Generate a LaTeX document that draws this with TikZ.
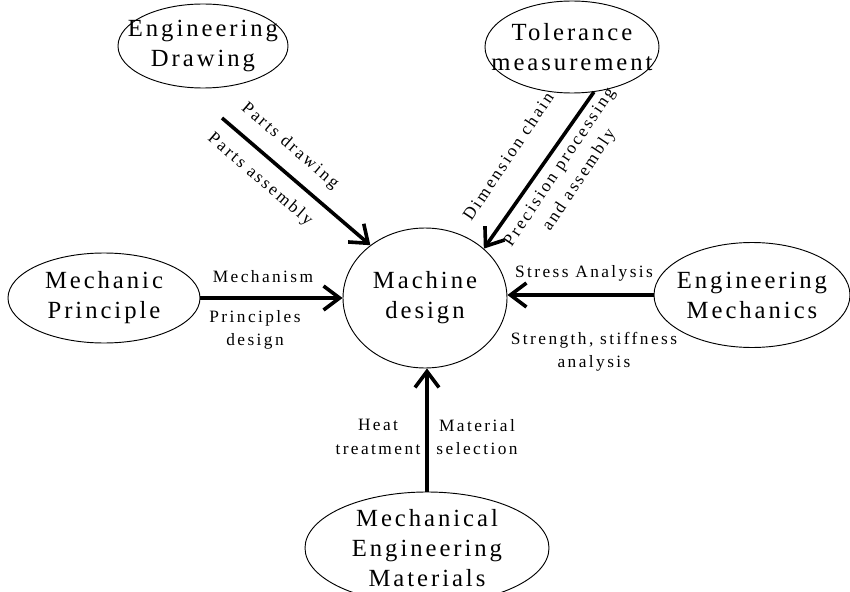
\documentclass[tikz,border=0pt]{standalone}
\usepackage{fontspec}
\setmainfont{Liberation Serif}
\newfontfamily\ellfont[LetterSpace=12]{Liberation Serif}
\newfontfamily\lblfont[LetterSpace=14]{Liberation Serif}
\usetikzlibrary{shapes.geometric,arrows.meta}
\begin{document}
\begin{tikzpicture}[x=0.75pt,y=-0.75pt,
  ell/.style={draw, ellipse, line width=0.7pt, inner sep=0pt},
  etext/.style={font=\ellfont\fontsize{18.5}{22.5}\selectfont, align=center, inner sep=0pt},
  lbl/.style={font=\lblfont\fontsize{13}{17.5}\selectfont, align=center, inner sep=0pt},
  arr/.style={line width=2.7pt, -{Straight Barb[length=12pt,width=18pt]}}]
\useasboundingbox (0,0) rectangle (850,592);
% ellipses
\node[ell, minimum width=127.5pt, minimum height=63pt] (ed) at (203,46) {};
\node[etext] (edt) at (ed.center) {Engineering\\Drawing};
\node[ell, minimum width=130.5pt, minimum height=69pt] (tol) at (572,47) {};
\node[etext] (tolt) at (tol.center) {Tolerance\\measurement};
\node[ell, minimum width=123pt, minimum height=105pt] (md) at (425,298) {};
\node[etext] (mdt) at (md.center) {Machine\\design};
\node[ell, minimum width=144pt, minimum height=67.5pt] (mp) at (104,298) {};
\node[etext] (mpt) at (mp.center) {Mechanic\\Principle};
\node[ell, minimum width=147pt, minimum height=78.75pt] (em) at (752,295) {};
\node[etext] (emt) at (em.center) {Engineering\\Mechanics};
\node[ell, minimum width=183pt, minimum height=84pt] (mem) at (427,548) {};
\node[etext] (memt) at (mem.center) {Mechanical\\Engineering\\Materials};
% connectors
\coordinate (c1) at (222,118);
\draw[arr] (c1) -- (md.136);
\draw[arr] (tol.-64) -- (md.40);
\draw[arr] (mp.east) -- (md.west);
\draw[arr] (em.west) -- (em.west -| md.east);
\draw[arr] (mem.north) -- (mem.north |- md.south);
% labels
\node[lbl, rotate=-40.7] (l1) at (290,146) {Parts drawing};
\node[lbl, rotate=-40.7] (l2) at (260,180) {Parts assembly};
\node[lbl, rotate=56.3] (l3) at (508,156) {Dimension chain};
\node[lbl, rotate=56.3] (l4) at (570,174) {Precision processing\\and assembly};
\node[lbl] (l5) at (263,277) {Mechanism};
\node[lbl] (l6) at (255,330) {Principles\\design};
\node[lbl] (l7) at (584,273) {Stress Analysis};
\node[lbl] (l8) at (594,352) {Strength, stiffness\\analysis};
\node[lbl] (l9) at (378,437) {Heat\\treatment};
\node[lbl] (l10) at (477,437) {Material\\selection};
\end{tikzpicture}
\end{document}
